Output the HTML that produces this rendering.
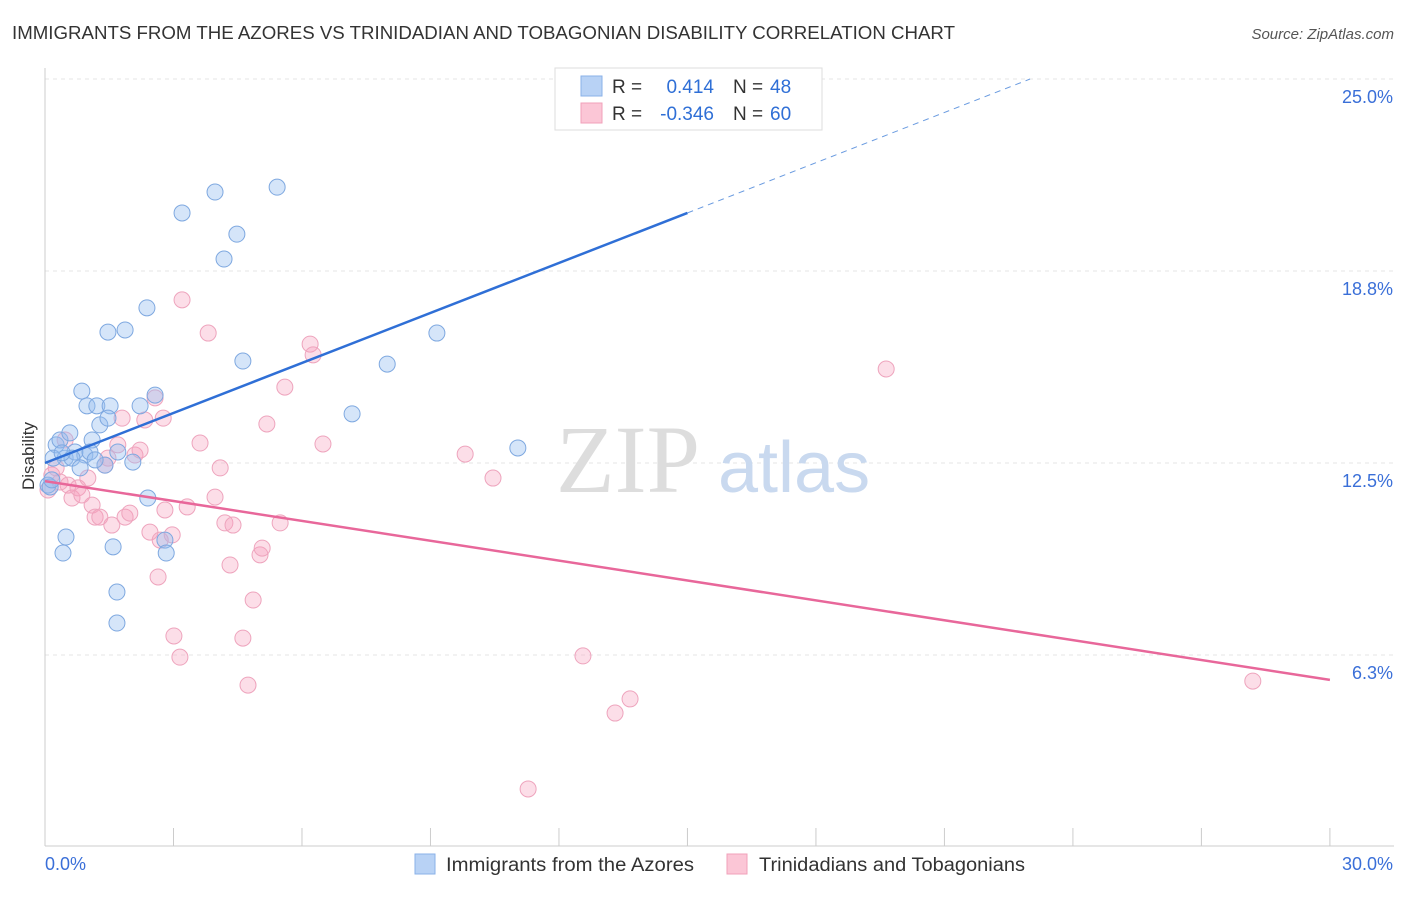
<!DOCTYPE html>
<html><head><meta charset="utf-8"><style>
body{margin:0;background:#fff;font-family:"Liberation Sans",sans-serif;}
</style></head><body>
<svg id="c" width="1406" height="892" xmlns="http://www.w3.org/2000/svg" style="font-family:'Liberation Sans',sans-serif">
<text x="12" y="39" font-size="18" fill="#333" textLength="943" lengthAdjust="spacingAndGlyphs">IMMIGRANTS FROM THE AZORES VS TRINIDADIAN AND TOBAGONIAN DISABILITY CORRELATION CHART</text>
<text x="1394" y="39" font-size="15" fill="#555" font-style="italic" text-anchor="end">Source: ZipAtlas.com</text>
<g id="grid"></g>
<text x="700" y="492" font-size="96" fill="#ddd" font-family="Liberation Serif" text-anchor="end">ZIP</text>
<text x="718" y="492" font-size="72" fill="#c9d9ef">atlas</text>
<g id="axes"></g>
<g id="pts"></g>
<g id="lines"></g>
<g>
<rect x="555" y="68" width="267" height="62" fill="#fff" stroke="#ddd"/>
<rect x="581" y="76" width="21" height="20" fill="#b8d2f5" stroke="#8ab1e8"/>
<rect x="581" y="103" width="21" height="20" fill="#fbc6d6" stroke="#f0a0ba"/>
<text x="612" y="93" font-size="19" fill="#333">R = </text><text x="714" y="93" font-size="19" fill="#2f6fd6" text-anchor="end">0.414</text>
<text x="733" y="93" font-size="19" fill="#333">N = </text><text x="770" y="93" font-size="19" fill="#2f6fd6">48</text>
<text x="612" y="120" font-size="19" fill="#333">R = </text><text x="714" y="120" font-size="19" fill="#2f6fd6" text-anchor="end">-0.346</text>
<text x="733" y="120" font-size="19" fill="#333">N = </text><text x="770" y="120" font-size="19" fill="#2f6fd6">60</text>
</g>
<g>
<rect x="415" y="854" width="20" height="20" fill="#b8d2f5" stroke="#8ab1e8"/>
<text x="446" y="871" font-size="19" fill="#333" textLength="248" lengthAdjust="spacingAndGlyphs">Immigrants from the Azores</text>
<rect x="727" y="854" width="20" height="20" fill="#fbc6d6" stroke="#f0a0ba"/>
<text x="759" y="871" font-size="19" fill="#333" textLength="266" lengthAdjust="spacingAndGlyphs">Trinidadians and Tobagonians</text>
</g>
<text x="34" y="456" font-size="17" fill="#333" text-anchor="middle" transform="rotate(-90 34 456)">Disability</text>
</svg>
<script>
const blueX=[0.26,0.35,0.47,0.58,0.70,0.19,0.07,0.12,0.42,0.49,0.86,0.98,1.21,1.52,1.28,1.10,1.47,0.93,1.05,1.70,1.40,2.05,2.22,2.57,2.38,1.87,1.47,3.20,3.97,4.48,4.18,5.42,4.62,2.40,1.59,1.68,1.68,2.80,2.83,7.17,7.99,9.15,11.04,0.63,0.40,0.82,0.16,1.17];
const blueY=[13.09,13.25,12.66,13.48,12.86,12.66,11.78,11.72,9.57,10.09,14.84,14.36,14.36,14.36,13.74,13.25,13.96,12.76,12.86,12.86,12.43,12.53,14.36,14.71,17.55,16.83,16.76,20.64,21.32,19.95,19.14,21.48,15.82,11.36,9.77,8.30,7.29,9.99,9.57,14.10,15.72,16.73,12.99,12.66,12.83,12.34,11.95,12.60];
const pinkX=[0.07,0.16,0.26,0.35,0.47,0.54,0.63,0.77,0.86,1.00,1.10,1.17,1.28,1.40,1.47,1.56,1.70,1.80,1.87,1.98,2.10,2.22,2.33,2.45,2.57,2.64,2.69,2.76,2.80,2.97,3.01,3.15,3.20,3.32,3.62,3.81,3.97,4.09,4.20,4.32,4.39,4.62,4.74,4.86,5.02,5.07,5.18,5.49,5.60,6.19,6.26,6.49,9.81,10.46,12.56,13.31,13.66,11.28,19.64,28.20];
const pinkY=[11.62,12.11,12.34,11.88,13.25,11.78,11.36,11.69,11.46,12.01,11.13,10.74,10.74,12.43,12.66,10.48,13.09,13.96,10.74,10.87,12.76,12.92,13.90,10.25,14.62,8.79,9.99,13.96,10.97,10.16,6.87,6.18,17.81,11.07,13.15,16.73,11.39,12.34,10.55,9.18,10.48,6.80,5.27,8.04,9.51,9.73,13.77,10.55,14.97,16.37,16.02,13.12,12.79,12.01,6.22,4.36,4.82,1.89,15.56,5.40];
const yTicks=[25,18.75,12.5,6.25];
const yTickLabels=["25.0%","18.8%","12.5%","6.3%"];
const xTicks=[0,3,6,9,12,15,18,21,24,27,30];
const blueTrend=[[0,12.5],[15,20.64],[23,25]];
const pinkTrend=[[0,11.91],[30,5.44]];
const NS="http://www.w3.org/2000/svg";
const X=v=>45+v*42.83, Y=v=>847-v*30.72;
function mk(p,t,a){const e=document.createElementNS(NS,t);for(const k in a)e.setAttribute(k,a[k]);p.appendChild(e);return e;}
const grid=document.getElementById('grid'),axes=document.getElementById('axes'),pts=document.getElementById('pts'),lines=document.getElementById('lines');
yTicks.forEach((t,i)=>{const l=mk(grid,'line',{x1:45,x2:1394,y1:Y(t),y2:Y(t),stroke:'#e6e6e6','stroke-dasharray':'4 4'});


const tx=mk(axes,'text',{x:1393,y:Y(t)+24,'font-size':18,fill:'#3a6fd8','text-anchor':'end'});tx.textContent=yTickLabels[i];

});
mk(axes,'line',{x1:45,x2:45,y1:68,y2:846,stroke:'#ccc'});
mk(axes,'line',{x1:45,x2:1394,y1:846,y2:846,stroke:'#ccc'});
xTicks.forEach(t=>{const l=mk(axes,'line',{x1:X(t),x2:X(t),y1:828,y2:846,stroke:'#ccc'});

});
let a=mk(axes,'text',{x:45,y:870,'font-size':18,fill:'#3a6fd8'});a.textContent='0.0%';


a=mk(axes,'text',{x:1393,y:870,'font-size':18,fill:'#3a6fd8','text-anchor':'end'});a.textContent='30.0%';


pinkX.forEach((x,i)=>{const c=mk(pts,'circle',{cx:X(x),cy:Y(pinkY[i]),r:8,fill:'rgba(247,160,190,0.35)',stroke:'#eea4bd','stroke-width':1});

});
blueX.forEach((x,i)=>{const c=mk(pts,'circle',{cx:X(x),cy:Y(blueY[i]),r:8,fill:'rgba(150,190,240,0.4)',stroke:'#7ea8e0','stroke-width':1});

});
let l=mk(lines,'line',{x1:X(blueTrend[0][0]),y1:Y(blueTrend[0][1]),x2:X(blueTrend[1][0]),y2:Y(blueTrend[1][1]),stroke:'#2f6fd6','stroke-width':2.5});


l=mk(lines,'line',{x1:X(blueTrend[1][0]),y1:Y(blueTrend[1][1]),x2:X(blueTrend[2][0]),y2:Y(blueTrend[2][1]),stroke:'#6a9be0','stroke-width':1,'stroke-dasharray':'6 5'});


l=mk(lines,'line',{x1:X(pinkTrend[0][0]),y1:Y(pinkTrend[0][1]),x2:X(pinkTrend[1][0]),y2:Y(pinkTrend[1][1]),stroke:'#e8679a','stroke-width':2.5});


</script>
</body></html>
